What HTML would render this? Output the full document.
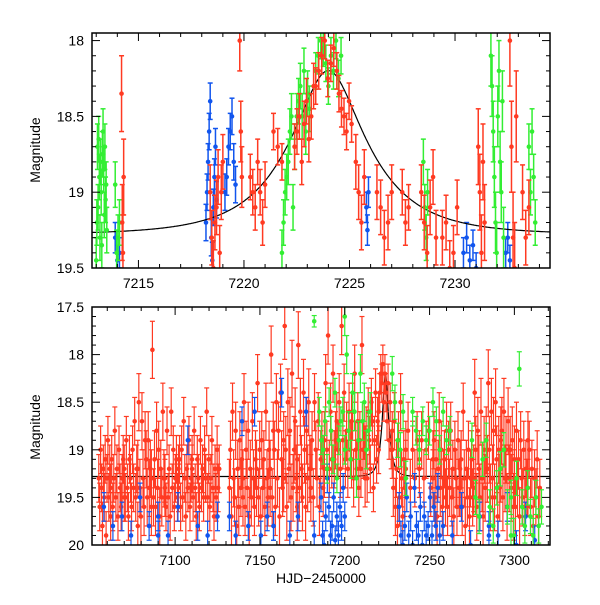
<!DOCTYPE html>
<html><head><meta charset="utf-8"><style>
body{margin:0;background:#fff}
svg text{font-family:"Liberation Sans",sans-serif;font-size:14px;fill:#000}
</style></head><body>
<svg id="c" width="600" height="600" xmlns="http://www.w3.org/2000/svg"></svg>
<script>
// cluster format: [tStart, tEnd, err, mag, mag, ...]
const topGreen=[[7213.0,7213.5,0.15,19.45,19.2,18.7,19.1,18.65,18.9,19.3,18.8,19.0,19.35,18.75,18.6,18.85,19.15,18.7,19.05,18.95,19.25],[7213.9,7214.1,0.15,18.95,19.4,19.3,19.2],[7221.8,7222.4,0.15,19.4,19.2,19.0,18.9,18.8,18.6,18.5,19.1,18.7],[7222.5,7223.1,0.15,18.5,18.4,18.3,18.5,18.2,18.6,18.35,18.45],[7223.4,7224.6,0.12,18.2,18.1,18.0,18.05,18.15,18.3,18.1,18.2,18.0,18.25,18.1],[7228.5,7228.7,0.15,18.8,19.1,19.3,19.0],[7231.7,7232.3,0.2,18.1,18.3,18.6,18.9,19.2,19.4,18.5,18.2,18.8,19.0,18.4,19.3],[7233.5,7233.8,0.15,18.7,19.0,18.6,18.9,19.2]];
const topBlue=[[7213.9,7214.1,0.1,19.3,19.45,19.4],[7218.2,7218.7,0.12,19.2,19.0,18.8,18.6,18.4,19.3,19.45,19.1,18.9,18.7,19.05],[7219.1,7219.6,0.12,19.0,18.9,18.7,18.6,18.5,18.8,18.95],[7225.8,7225.9,0.1,19.1,19.25,19.0],[7230.4,7231.0,0.1,19.4,19.3,19.45,19.35,19.5],[7232.4,7232.6,0.1,19.4,19.3,19.45]];
const topRed=[[7214.2,7214.3,0.25,18.35,19.2,19.4,18.9],[7218.4,7219.0,0.18,19.0,19.3,19.5,19.2,19.1,18.9,19.4,19.0,18.8],[7219.8,7219.9,0.2,18.0,18.6,18.9],[7220.3,7221.0,0.15,18.9,19.0,19.1,18.8,19.0,19.2,18.95],[7221.4,7221.8,0.12,18.6,18.7,18.8],[7222.4,7223.3,0.15,18.7,18.6,18.5,18.8,18.55,18.4,18.65,18.5,18.3],[7223.4,7224.4,0.12,18.3,18.2,18.1,18.0,18.25,18.15,18.05,18.2],[7224.5,7225.1,0.12,18.35,18.45,18.5,18.6,18.4,18.55],[7225.3,7225.7,0.18,18.8,19.0,19.2,18.9],[7226.3,7227.0,0.18,19.0,19.1,19.3,19.2,19.0],[7227.5,7227.8,0.15,19.0,19.2,19.1],[7228.4,7229.1,0.18,19.0,19.2,19.4,19.1,18.9,19.3],[7229.4,7230.1,0.18,19.3,19.2,19.5,19.4,19.1],[7231.1,7231.4,0.25,18.7,19.0,19.4,18.8,19.2],[7232.6,7232.9,0.3,18.0,18.7,19.3,19.5,18.5],[7233.2,7233.5,0.18,19.0,19.3,19.1]];
const botGreen=[[7182,7184,0.06,17.65],[7185,7200,0.15,18.6,18.9,19.0,18.7,19.2,18.5,18.8,19.1,18.4,19.3,18.9,18.7,18.6,19.0],[7200,7215,0.2,17.6,18.0,18.8,19.1,18.4,18.6,19.3,18.9,18.2,18.7,18.5,19.0,18.8,18.6],[7228,7236,0.18,18.2,18.5,18.9,19.0,18.6,19.3],[7240,7262,0.15,18.6,18.8,19.0,18.7,18.9,18.8,18.5,18.7,19.0,18.6,18.9,18.8],[7275,7298,0.18,18.9,19.5,19.7,19.1,18.9,19.6,19.8,19.4,19.2,19.0,19.6,19.9],[7298,7316,0.18,19.5,19.9,19.3,18.15,19.6,19.8,19.4,19.7,19.9,19.5,19.8,19.6]];
const botBlue=[[7058,7090,0.15,19.6,19.8,19.7,19.9,19.5,19.8,19.9],[7090,7125,0.15,19.7,19.9,19.6,18.9,19.8,19.9,19.7],[7132,7158,0.15,19.7,19.9,18.7,19.8,18.6,19.9,19.7,19.8],[7158,7182,0.15,19.8,18.4,19.9,19.7,18.6,19.9],[7186,7200,0.15,19.5,19.9,20.0,19.7,19.3,19.6,19.9,19.8,19.5,19.95,19.7,19.9,19.6,19.8,19.4,19.7],[7232,7256,0.15,19.6,19.9,20.0,19.8,19.5,19.9,19.7,20.0,19.4,19.8,19.9,19.6,20.0,19.7,19.9,19.8,19.5,19.9,19.6,19.8,19.4,19.9],[7258,7285,0.15,19.8,19.9,19.6,20.0,19.7,19.9],[7285,7312,0.15,19.8,19.9,19.6,20.0,19.7,19.95]];
const botRed=[
[7055,7062,0.25,19.3,19.6,19.0,19.4,19.8,19.2,19.5,19.1,19.9,19.3,18.9,19.5,19.2,19.7],
[7062,7070,0.25,19.4,19.1,19.6,19.3,18.8,19.5,19.2,19.7,19.0,19.4,19.6,19.3,19.1,19.5],
[7070,7078,0.25,19.2,19.5,18.9,19.4,19.7,19.1,19.3,19.6,19.0,19.4,18.7,19.5,19.2,19.8],
[7078,7086,0.3,19.2,18.5,19.4,19.7,18.7,19.3,19.6,18.9,19.1,19.5,18.9,19.4,19.2,19.6],
[7086,7094,0.3,19.3,17.95,19.5,19.1,19.6,18.8,19.4,19.0,19.7,19.2,19.5,18.6,19.3,19.4],
[7094,7102,0.25,19.3,19.6,18.8,19.5,19.2,19.7,18.6,19.4,19.0,19.6,19.3,19.1,19.5,19.2],
[7102,7110,0.25,19.4,19.1,19.6,19.0,19.5,18.7,19.3,19.7,19.2,19.4,18.9,19.6,19.3,19.1],
[7110,7118,0.25,19.2,19.5,18.8,19.4,19.7,19.1,19.3,19.6,18.9,19.4,19.2,19.5,19.0,19.3],
[7118,7126,0.25,19.3,18.6,19.5,19.1,19.6,19.3,18.9,19.4,19.7,19.2,19.5,19.0,19.4,19.2],
[7132,7140,0.3,19.4,19.0,19.7,18.6,19.3,19.5,18.8,19.8,19.2,19.6,18.9,19.4,19.1,19.5],
[7140,7148,0.3,19.3,18.5,19.6,19.0,19.4,18.8,19.7,19.2,19.5,18.7,19.3,19.6,19.1,19.4],
[7148,7156,0.3,19.2,18.3,19.5,19.0,19.7,18.9,19.4,19.1,19.6,18.6,19.3,19.5,19.0,19.4],
[7156,7164,0.3,19.2,18.0,19.5,18.8,19.0,19.6,18.5,19.3,18.8,19.7,18.4,19.1,19.4,18.9],
[7164,7172,0.35,19.3,17.7,19.0,19.6,18.5,19.2,18.8,19.5,18.2,19.4,19.0,18.7,19.3,19.6],
[7172,7180,0.35,19.1,17.9,19.4,18.6,19.2,19.5,18.4,19.0,19.6,18.8,19.3,18.5,19.2,19.4],
[7180,7188,0.3,19.2,18.9,19.5,18.5,19.0,19.3,18.7,19.6,19.1,18.9,19.4,19.2],
[7188,7196,0.3,18.9,18.3,19.0,17.8,19.2,18.6,19.1,18.2,19.1,18.9,18.7,19.0],
[7196,7204,0.3,19.0,18.5,19.2,17.7,18.9,18.4,19.1,18.8,19.2,18.6,19.0,18.7],
[7204,7212,0.3,19.1,18.6,19.3,18.2,19.0,19.2,18.7,19.4,18.9,19.2,17.9,19.0,18.8,19.3],
[7212,7220,0.25,19.0,18.8,19.3,18.6,18.9,19.2,18.5,18.7,19.4,18.9,18.4,19.1,18.7,19.0],
[7220,7228,0.2,18.6,18.4,18.2,18.3,18.1,18.5,18.2,18.4,18.7,18.3,18.9,18.5,19.0,18.8],
[7228,7236,0.3,19.0,19.4,18.7,19.6,19.2,19.8,18.9,19.5,18.5,19.3,19.7,19.1,19.4,19.0],
[7236,7244,0.3,19.2,18.8,19.4,19.0,19.3,18.9,19.1],
[7244,7252,0.3,19.2,18.9,19.3,19.0,18.8,19.4,19.1],
[7252,7260,0.3,19.3,18.9,19.5,19.1,19.7,19.2,18.7,19.4,19.0,19.6,19.3,19.1,19.5,18.8],
[7260,7268,0.3,19.3,19.6,19.0,19.4,18.8,19.5,19.2,19.7,19.0,19.3,19.6,18.9,19.4,19.2],
[7268,7276,0.3,19.4,19.1,19.6,18.6,19.3,19.8,19.2,19.5,19.0,19.7,19.3,19.1,19.5,19.4],
[7276,7284,0.35,19.3,18.4,19.0,19.6,18.8,19.2,19.5,18.6,19.3,19.7,19.0,19.4,18.9,19.2],
[7284,7292,0.35,19.2,18.3,19.0,19.5,18.6,19.3,18.8,19.5,18.5,19.1,19.7,19.0,19.4,18.9],
[7292,7300,0.35,19.2,18.8,19.5,18.6,19.3,19.0,19.6,18.7,19.3,19.0,19.4,18.9,19.6,19.1],
[7300,7308,0.3,19.3,19.6,18.8,19.4,19.1,19.7,18.9,19.3,19.5,19.0,19.6,19.2,19.4,18.9],
[7308,7315,0.3,19.4,19.0,19.6,19.2,19.8,19.3,19.5,19.1,19.7,19.4]];
const topXTicks=[7215,7220,7225,7230];
const topYTicks=["18","18.5","19","19.5"];
const botXTicks=[7100,7150,7200,7250,7300];
const botYTicks=["17.5","18","18.5","19","19.5","20"];
const model={t0:7224,tE:3.5,u0:0.39,base:19.28};

const NS="http://www.w3.org/2000/svg",svg=document.getElementById('c');
function mk(t,a,p){const e=document.createElementNS(NS,t);for(const k in a)e.setAttribute(k,a[k]);(p||svg).appendChild(e);return e;}
function panel(name,x0,x1,y0,y1,px0,px1,py0,py1,xt,yt,minorX,minorY,data,sw,curveAfter){
  const X=v=>px0+(v-x0)/(x1-x0)*(px1-px0), Y=v=>py0+(v-y0)/(y1-y0)*(py1-py0);
  const g=mk('g',{});  
  const cp='cp'+name; const d=mk('clipPath',{id:cp},g); mk('rect',{x:px0,y:py0,width:px1-px0,height:py1-py0},d);
  const pts=mk('g',{'clip-path':'url(#'+cp+')'},g);
  const cols={green:'#33ee33',blue:'#1155ee',red:'#ff3a22'};
  let dd='';for(let i=0;i<=600;i++){const t=x0+(x1-x0)*i/600,u=Math.sqrt(model.u0**2+((t-model.t0)/model.tE)**2),A=(u*u+2)/(u*Math.sqrt(u*u+4)),m=model.base-2.5*Math.log10(A);dd+=(i?'L':'M')+X(t).toFixed(1)+','+Y(m).toFixed(1);}
  const drawCurve=()=>{const cv=mk('path',{d:dd,fill:'none',stroke:'#000','stroke-width':1.2},pts);};
  if(curveAfter==='none')drawCurve();
  for(const [c,arr] of data){
    const sg=mk('g',{stroke:cols[c],fill:cols[c],'stroke-width':sw},pts);
     
    for(const cl of arr){const [a,b,e]=cl,m=cl.slice(3),n=m.length;
      m.forEach((v,i)=>{const t=n>1?a+(b-a)*i/(n-1):a, x=X(t);
        mk('line',{x1:x,x2:x,y1:Y(v-e),y2:Y(v+e)},sg);
        mk('line',{x1:x-2.5,x2:x+2.5,y1:Y(v-e),y2:Y(v-e)},sg);
        mk('line',{x1:x-2.5,x2:x+2.5,y1:Y(v+e),y2:Y(v+e)},sg);
        mk('circle',{cx:x,cy:Y(v),r:2.3,stroke:'none'},sg);});}
    if(c===curveAfter)drawCurve();
  }
  mk('rect',{x:px0,y:py0,width:px1-px0,height:py1-py0,fill:'none',stroke:'#000','stroke-width':1.5},g);
  for(let v=Math.ceil(x0/minorX)*minorX;v<=x1;v+=minorX){const x=X(v),maj=xt.includes(v),L=maj?8:4;
    mk('line',{x1:x,x2:x,y1:py1,y2:py1-L,stroke:'#000'},g);mk('line',{x1:x,x2:x,y1:py0,y2:py0+L,stroke:'#000'},g);}
  xt.forEach(v=>{const t=mk('text',{x:X(v),y:py1+20,'text-anchor':'middle'},g);t.textContent=v;});
  for(let v=Math.ceil(y0/minorY-1e-6)*minorY;v<=y1+1e-6;v+=minorY){const y=Y(v),maj=Math.abs(v*2-Math.round(v*2))<1e-6,L=maj?8:4;
    mk('line',{x1:px0,x2:px0+L,y1:y,y2:y,stroke:'#000'},g);mk('line',{x1:px1,x2:px1-L,y1:y,y2:y,stroke:'#000'},g);}
  yt.forEach(s=>{const t=mk('text',{x:px0-8,y:Y(+s)+5,'text-anchor':'end'},g);t.textContent=s;});
}
panel('top-panel',7212.8,7234.5,17.95,19.5,92,550,33,268,topXTicks,topYTicks,1,0.1,[['blue',topBlue],['green',topGreen],['red',topRed]],1.5,'blue');
panel('bottom-panel',7051,7321,17.5,20,92,550,307,545,botXTicks,botYTicks,10,0.1,[['red',botRed],['blue',botBlue],['green',botGreen]],1.2,'none');
[['top-y-axis-title',150],['bottom-y-axis-title',427]].forEach(([n,y])=>{const t=mk('text',{transform:`translate(40,${y}) rotate(-90)`,'text-anchor':'middle'});t.textContent='Magnitude';});
const xl=mk('text',{x:321,y:583,'text-anchor':'middle'});xl.textContent='HJD−2450000';


</script>
</body></html>
